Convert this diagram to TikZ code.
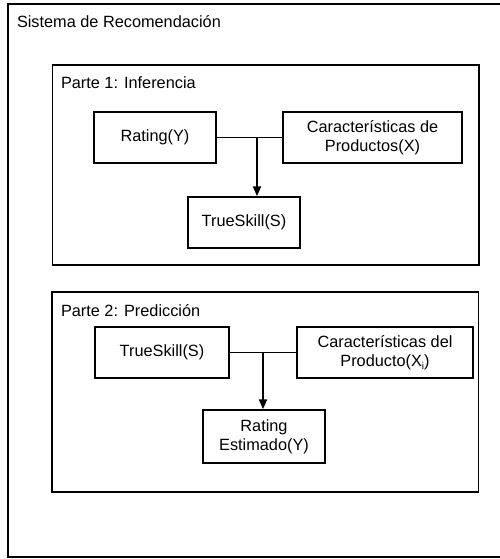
\documentclass[tikz,border=0pt]{standalone}
\usepackage{fontspec}
\setmainfont{Liberation Sans}
\usetikzlibrary{arrows.meta}
\begin{document}
\begin{tikzpicture}[x=1pt,y=-1pt,
  every node/.style={font=\fontsize{16.3}{19}\selectfont},
  frame/.style={draw,line width=1.5pt,inner sep=0pt},
  box/.style={draw,line width=1.5pt,align=center,inner sep=0pt},
  lbl/.style={anchor=base west,inner sep=0pt,outer sep=0pt},
  link/.style={line width=1.5pt},
  arrowlink/.style={line width=2pt,-{Triangle[length=10pt,width=8pt]}}]
\useasboundingbox (0,0) rectangle (499,559);
\fill[white] (0,0) rectangle (499,559);
% outer frame
\node[frame,minimum width=494pt,minimum height=553pt] (outer) at (255,280.5) {};
\node[lbl] (title) at (17,28) {Sistema de Recomendación};
% part 1
\node[frame,minimum width=426.5pt,minimum height=200pt] (p1) at (265.75,165) {};
\node[lbl] (t1) at (61,89) {Parte 1: Inferencia};
\node[box,minimum width=122pt,minimum height=51pt] (rating) at (155,137.5) {Rating(Y)};
\node[box,minimum width=179pt,minimum height=51pt] (carac) at (372.5,137.5) {Características de\\Productos(X)};
\node[box,minimum width=112pt,minimum height=51pt] (ts) at (244,222.5) {TrueSkill(S)};
\coordinate (j1) at (257,137.5);
\draw[link] (rating.east) -- (carac.west);
\draw[arrowlink] (j1) -- (j1 |- ts.north);
% part 2
\node[frame,minimum width=426.6pt,minimum height=200pt] (p2) at (265.3,392) {};
\node[lbl] (t2) at (61,316) {Parte 2: Predicción};
\node[box,minimum width=134pt,minimum height=51pt] (ts2) at (162,352.5) {TrueSkill(S)};
\node[box,minimum width=176pt,minimum height=51pt] (carac2) at (385,352.5) {Características del\\Producto(X\raisebox{-3pt}{\fontsize{10}{10}\selectfont i})};
\node[box,minimum width=122pt,minimum height=53pt] (re) at (264,436.5) {Rating\\Estimado(Y)};
\coordinate (j2) at (263,352.5);
\draw[link] (ts2.east) -- (carac2.west);
\draw[arrowlink] (j2) -- (j2 |- re.north);
\end{tikzpicture}
\end{document}
